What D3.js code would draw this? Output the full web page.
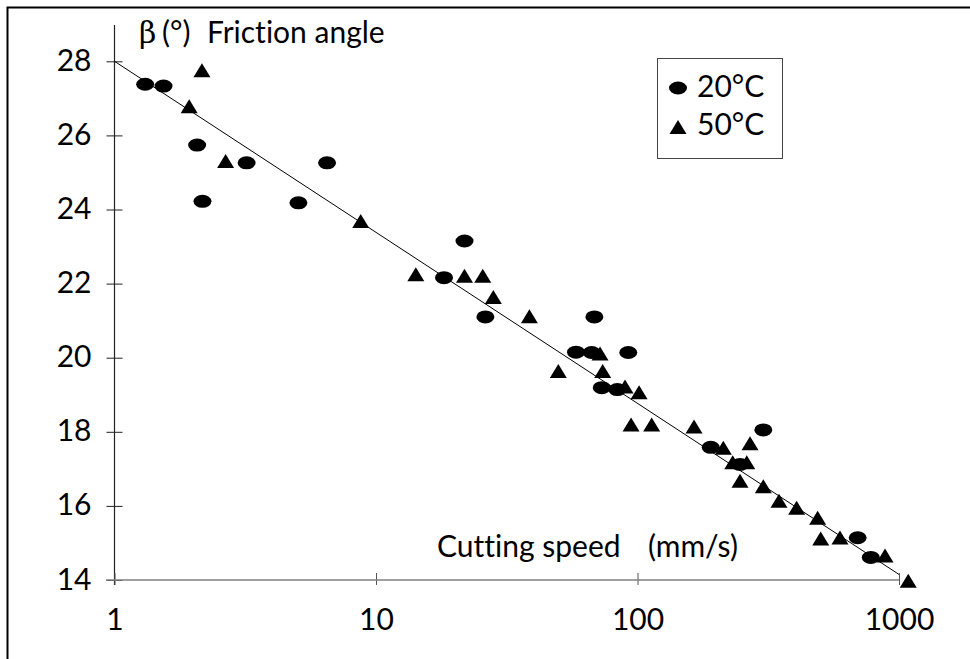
<!DOCTYPE html>
<html>
<head>
<meta charset="utf-8">
<script src="https://cdn.jsdelivr.net/npm/d3@7"></script>
<style>
  html, body { margin: 0; padding: 0; background: #fff; }
  svg { display: block; }
  text { font-family: Lato, "Open Sans", sans-serif; fill: #000; font-variant-ligatures: none; }
</style>
</head>
<body>
<svg id="chart" width="970" height="659"></svg>
<script>
// ---- data ----
const speed20 = [1.31, 1.54, 2.07, 2.17, 3.2, 6.5, 5.05, 21.8, 18.2, 26.2, 68.4, 58.2, 66.8, 92.2, 73.0, 83.7, 302.8, 190.6, 246.6, 695, 780];
const angle20 = [27.38, 27.33, 25.74, 24.22, 25.26, 25.26, 24.18, 23.15, 22.16, 21.10, 21.10, 20.15, 20.14, 20.14, 19.19, 19.14, 18.05, 17.58, 17.12, 15.14, 14.61];
const speed50 = [2.16, 1.93, 2.66, 8.74, 14.2, 21.8, 25.6, 28.1, 38.6, 71.9, 49.8, 73.6, 89.6, 101.4, 94.5, 113.3, 164.5, 269.4, 212.9, 231.3, 261.7, 246.6, 302.8, 347.6, 406, 488.5, 501.9, 594.7, 884.3, 1085];
const angle50 = [27.76, 26.79, 25.31, 23.69, 22.25, 22.21, 22.21, 21.64, 21.12, 20.11, 19.64, 19.64, 19.22, 19.07, 18.20, 18.20, 18.14, 17.69, 17.57, 17.18, 17.18, 16.68, 16.53, 16.14, 15.95, 15.68, 15.12, 15.15, 14.66, 13.98];
const trendSpeed = [1, 1000];
const trendAngle = [28, 14.15];
const xTicks = [1, 10, 100, 1000];
const yTicks = [14, 16, 18, 20, 22, 24, 26, 28];
const seriesNames = ["20°C", "50°C"];

// ---- layout ----
const FS = 30;
const svg = d3.select("#chart");
const x = d3.scaleLog().domain([1, 1000]).range([114.5, 899]);
const y = d3.scaleLinear().domain([14, 28]).range([580, 61.3]);

// outer frame
svg.append("rect").attr("x", 7.5).attr("y", 7.5).attr("width", 1000).attr("height", 1000)
  .attr("fill", "none").attr("stroke", "#000").attr("stroke-width", 2);

// y axis
const yAxis = svg.append("g").attr("transform", `translate(${x(1)},0)`)
  .call(d3.axisLeft(y).tickValues(yTicks).tickFormat(d3.format("d")).tickSize(8).tickPadding(0));
yAxis.select(".domain").remove();
yAxis.selectAll(".tick line").attr("x1", 8).attr("x2", -8).attr("stroke", "#222");
yAxis.selectAll(".tick text").attr("x", -23).attr("dy", "9px").attr("font-size", FS)
  .style("font-family", "Lato, sans-serif");
yAxis.append("line").attr("x1", 0).attr("x2", 0).attr("y1", 25).attr("y2", 585)
  .attr("stroke", "#222").attr("stroke-width", 1.2);

// x axis
const xAxis = svg.append("g").attr("transform", `translate(0,${y(14)})`)
  .call(d3.axisBottom(x).tickValues(xTicks).tickFormat(d3.format("d")).tickSize(5).tickPadding(0));
xAxis.select(".domain").remove();
xAxis.append("line").attr("x1", 106).attr("x2", x(1000)).attr("y1", 0).attr("y2", 0)
  .attr("stroke", "#808080").attr("stroke-width", 1.5);
xAxis.selectAll(".tick line").attr("y1", -7).attr("y2", 5).attr("stroke", "#555");
xAxis.selectAll(".tick text").attr("y", 50).attr("dy", 0).attr("font-size", FS)
  .style("font-family", "Lato, sans-serif");

// trend line
svg.append("path")
  .datum(trendSpeed.map((s, i) => [s, trendAngle[i]]))
  .attr("d", d3.line().x(d => x(d[0])).y(d => y(d[1])))
  .attr("fill", "none").attr("stroke", "#000").attr("stroke-width", 1);

// markers
const triPath = (cx, cy) => `M${cx - 8.5},${cy + 7} L${cx + 8.5},${cy + 7} L${cx},${cy - 7} Z`;

svg.append("g").selectAll("ellipse")
  .data(speed20.map((s, i) => [s, angle20[i]]))
  .join("ellipse")
  .attr("cx", d => x(d[0])).attr("cy", d => y(d[1]))
  .attr("rx", 9).attr("ry", 6.5).attr("fill", "#000");

svg.append("g").selectAll("path")
  .data(speed50.map((s, i) => [s, angle50[i]]))
  .join("path")
  .attr("d", d => triPath(x(d[0]), y(d[1])))
  .attr("fill", "#000");

// axis titles
const t1 = svg.append("text").attr("y", 43).attr("font-size", FS);
t1.append("tspan").attr("x", 139).style("font-family", "'DejaVu Serif', serif").attr("font-size", 30).text("β");
t1.append("tspan").attr("x", 162).text("(°)");
t1.append("tspan").attr("x", 207).text("Friction angle");

svg.append("text").attr("x", 437).attr("y", 557).attr("font-size", FS).text("Cutting speed");
svg.append("text").attr("x", 648).attr("y", 557).attr("font-size", FS).text("(mm/s)");

// legend
const lg = svg.append("g");
lg.append("rect").attr("x", 657.5).attr("y", 58.5).attr("width", 125).attr("height", 100)
  .attr("fill", "#fff").attr("stroke", "#444").attr("stroke-width", 1);
lg.append("ellipse").attr("cx", 678).attr("cy", 88).attr("rx", 9).attr("ry", 6.5).attr("fill", "#000");
lg.append("text").attr("x", 697).attr("y", 97).attr("font-size", FS).text(seriesNames[0]);
lg.append("path").attr("d", triPath(678, 127)).attr("fill", "#000");
lg.append("text").attr("x", 697).attr("y", 135).attr("font-size", FS).text(seriesNames[1]);
</script>
</body>
</html>
